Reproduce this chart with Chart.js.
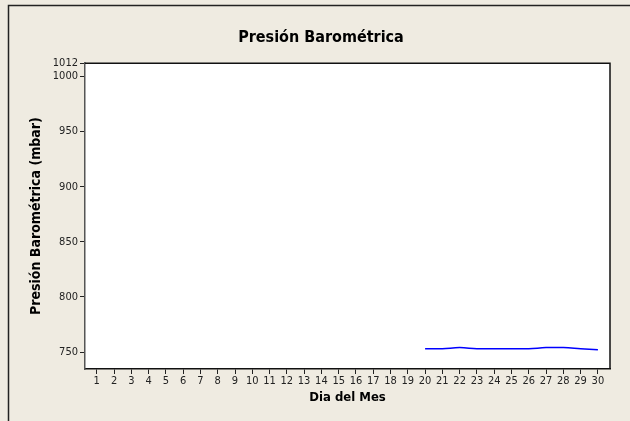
<!DOCTYPE html>
<html>
<head>
<meta charset="utf-8">
<script src="https://cdn.jsdelivr.net/npm/chart.js@4/dist/chart.umd.min.js"></script>
<style>
  html, body { margin: 0; padding: 0; background: #efebe1; }
  #wrap { width: 630px; height: 421px; }
</style>
</head>
<body>
<div id="wrap"><canvas id="presionChart" width="630" height="421"></canvas></div>
<script>
// Données
const dias = [1, 2, 3, 4, 5, 6, 7, 8, 9, 10, 11, 12, 13, 14, 15, 16, 17, 18, 19, 20, 21, 22, 23, 24, 25, 26, 27, 28, 29, 30];
const presion = [null, null, null, null, null, null, null, null, null, null,
                 null, null, null, null, null, null, null, null, null,
                 753, 753, 754, 753, 753, 753, 753, 754, 754, 753, 752];
const yTicks = [750, 800, 850, 900, 950, 1000, 1012];

const FONT = "'DejaVu Sans Condensed', 'DejaVu Sans', sans-serif";

// Fond beige, cadre extérieur et zone du graphique en blanc
const fondPlugin = {
    id: 'fond',
    beforeDraw(chart) {
        const ctx = chart.ctx;
        const a = chart.chartArea;
        ctx.save();
        ctx.fillStyle = '#efebe1';
        ctx.fillRect(0, 0, chart.width, chart.height);
        ctx.strokeStyle = '#222';
        ctx.lineWidth = 1.5;
        ctx.beginPath();
        ctx.moveTo(8.5, chart.height);
        ctx.lineTo(8.5, 5.5);
        ctx.lineTo(chart.width, 5.5);
        ctx.stroke();
        ctx.fillStyle = '#ffffff';
        ctx.fillRect(a.left, a.top, a.right - a.left, a.bottom - a.top);
        ctx.restore();
    },
    afterDraw(chart) {
        const ctx = chart.ctx;
        const a = chart.chartArea;
        ctx.save();
        ctx.strokeStyle = '#111';
        ctx.lineWidth = 1.5;
        ctx.beginPath();
        ctx.moveTo(a.left, a.top);
        ctx.lineTo(a.right, a.top);
        ctx.lineTo(a.right, a.bottom);
        ctx.stroke();
        ctx.restore();
    }
};

new Chart(document.getElementById('presionChart'), {
    type: 'line',
    data: {
        labels: dias,
        datasets: [{
            label: 'Presión',
            data: dias.map((d, i) => ({ x: d, y: presion[i] })),
            borderColor: '#0000ff',
            borderWidth: 1.5,
            pointRadius: 0,
            tension: 0.4,
            fill: false,
            spanGaps: false
        }]
    },
    options: {
        responsive: false,
        animation: false,
        layout: { padding: { left: 32, right: 20, top: 6, bottom: 0 } },
        plugins: {
            legend: { display: false },
            tooltip: { enabled: false },
            title: {
                display: true,
                text: 'Presión Barométrica',
                color: '#000',
                font: { family: FONT, size: 16, weight: 'bold' },
                padding: { top: 22, bottom: 16 }
            }
        },
        scales: {
            x: {
                type: 'linear',
                min: 0.32,
                max: 30.7,
                afterBuildTicks: s => { s.ticks = dias.map(v => ({ value: v })); },
                afterFit: s => { s.height = 52; },
                grid: { drawOnChartArea: false, tickLength: 5, tickColor: '#222' },
                border: { color: '#111', width: 1.5 },
                ticks: {
                    color: '#222',
                    padding: 1,
                    maxRotation: 0,
                    autoSkip: false,
                    font: { family: FONT, size: 11 },
                    callback: v => String(v)
                },
                title: {
                    display: true,
                    text: 'Dia del Mes',
                    color: '#000',
                    font: { family: FONT, size: 13, weight: 'bold' },
                    padding: { top: 0, bottom: 16 }
                }
            },
            y: {
                min: 734.6,
                max: 1012,
                afterBuildTicks: s => { s.ticks = yTicks.map(v => ({ value: v })); },
                afterFit: s => { s.width = 53; },
                grid: { drawOnChartArea: false, tickLength: 5, tickColor: '#222' },
                border: { color: '#555', width: 1.5 },
                ticks: {
                    color: '#222',
                    padding: 2,
                    font: { family: FONT, size: 11 },
                    callback: v => String(v)
                },
                title: {
                    display: true,
                    text: 'Presión Barométrica (mbar)',
                    color: '#000',
                    font: { family: FONT, size: 14, weight: 'bold' },
                    padding: { top: -4, bottom: 0 }
                }
            }
        }
    },
    plugins: [fondPlugin]
});
</script>
</body>
</html>
